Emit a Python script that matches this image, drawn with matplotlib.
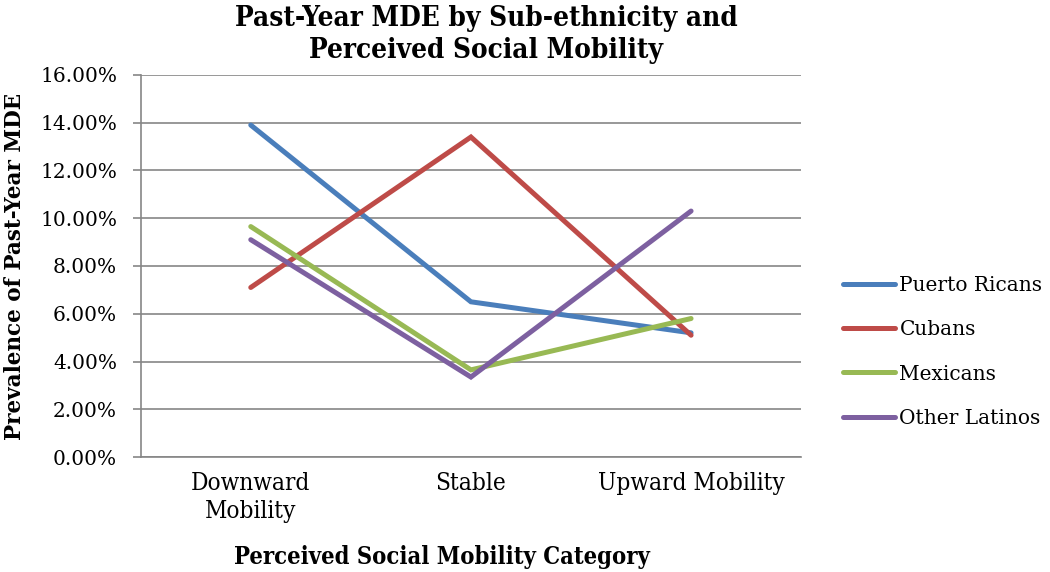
import matplotlib
import matplotlib.pyplot as plt
from matplotlib.ticker import FuncFormatter

matplotlib.use("Agg")

# dati
categories = ["Downward\nMobility", "Stable", "Upward Mobility"]
puerto_ricans = [13.9, 6.5, 5.2]
cubans = [7.1, 13.4, 5.1]
mexicans = [9.65, 3.65, 5.8]
other_latinos = [9.1, 3.35, 10.3]

series = [
    ("Puerto Ricans", puerto_ricans, "#4A7EBB"),
    ("Cubans", cubans, "#BE4B48"),
    ("Mexicans", mexicans, "#98B954"),
    ("Other Latinos", other_latinos, "#7D60A0"),
]

serif = ["DejaVu Serif"]

fig = plt.figure(figsize=(10.5, 5.72), dpi=100)
ax = fig.add_axes([0.134, 0.201, 0.629, 0.668])

x = list(range(len(categories)))
for name, vals, col in series:
    ax.plot(x, vals, color=col, linewidth=3.6, solid_capstyle="round",
            solid_joinstyle="miter", label=name)

ax.set_xlim(-0.5, 2.5)
ax.set_ylim(0, 16)
ax.set_yticks(range(0, 17, 2))
ax.yaxis.set_major_formatter(FuncFormatter(lambda v, p: f"{v:.2f}%"))
ax.set_xticks(x)
ax.set_xticklabels(categories, fontsize=17.5, family=serif,
                   fontstretch="condensed", linespacing=1.28)
for lab in ax.get_yticklabels():
    lab.set_family(serif)
    lab.set_fontsize(14.5)

ax.grid(axis="y", color="#868686", linewidth=1.2)
ax.set_axisbelow(True)
for s in ["top", "right"]:
    ax.spines[s].set_visible(False)
ax.spines["left"].set_color("#868686")
ax.spines["bottom"].set_color("#868686")
ax.spines["left"].set_linewidth(1.2)
ax.spines["bottom"].set_linewidth(1.2)
ax.tick_params(axis="y", length=6, color="#868686", width=1.2, pad=11)
ax.tick_params(axis="x", length=0, pad=11)

fig.text(15 / 1050, 0.535, "Prevalence of Past-Year MDE", rotation=90,
         ha="center", va="center", fontsize=15.5, fontweight="bold",
         family=serif)
fig.text(0.421, 0.026, "Perceived Social Mobility Category", ha="center",
         va="center", fontsize=17, fontweight="bold", family=serif,
         fontstretch="condensed")
fig.text(0.463, 0.991, "Past-Year MDE by Sub-ethnicity and\nPerceived Social Mobility",
         ha="center", va="top", fontsize=20, fontweight="bold", family=serif,
         fontstretch="condensed", linespacing=1.22)

leg = ax.legend(loc="center left", bbox_to_anchor=(1.036, 0.275), frameon=False,
                prop={"family": serif, "size": 14.5}, handlelength=2.6,
                handletextpad=0.2, labelspacing=1.25)

plt.savefig("out.png", dpi=100)
plt.close()
